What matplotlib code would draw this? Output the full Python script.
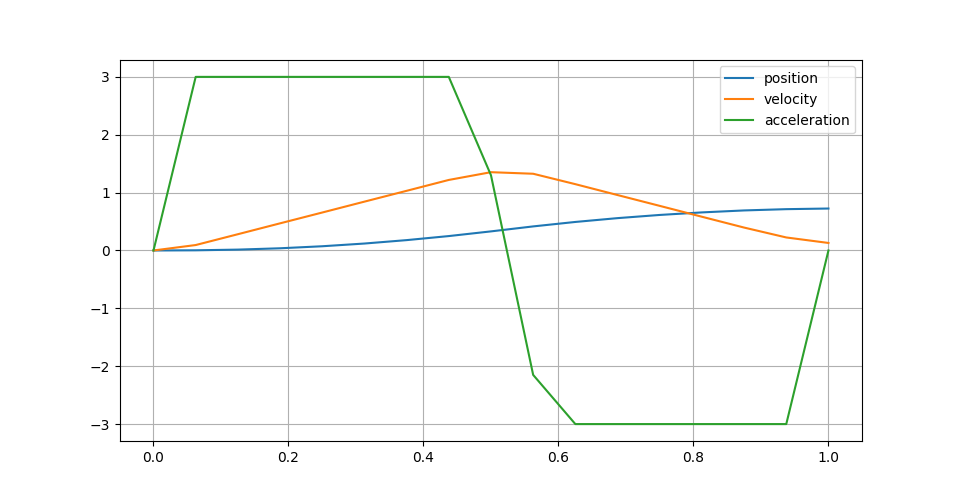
import matplotlib
matplotlib.use("Agg")
import matplotlib.pyplot as plt

t = [0.0, 0.0625, 0.125, 0.1875, 0.25, 0.3125, 0.375, 0.4375, 0.5, 0.5625,
     0.625, 0.6875, 0.75, 0.8125, 0.875, 0.9375, 1.0]
acceleration = [0, 3, 3, 3, 3, 3, 3, 3, 1.3, -2.15, -3, -3, -3, -3, -3, -3, 0]
velocity = [0, 0.094, 0.281, 0.469, 0.656, 0.844, 1.031, 1.219, 1.353, 1.326,
            1.146, 0.958, 0.771, 0.583, 0.396, 0.225, 0.13]
position = [0, 0.003, 0.015, 0.038, 0.073, 0.120, 0.179, 0.249, 0.330, 0.416,
            0.493, 0.559, 0.614, 0.658, 0.692, 0.714, 0.725]

fig, ax = plt.subplots(figsize=(9.58, 4.96), dpi=100)
ax.plot(t, position, label="position")
ax.plot(t, velocity, label="velocity")
ax.plot(t, acceleration, label="acceleration")
ax.grid(True)
ax.legend(loc="upper right")
fig.savefig("out.png")
